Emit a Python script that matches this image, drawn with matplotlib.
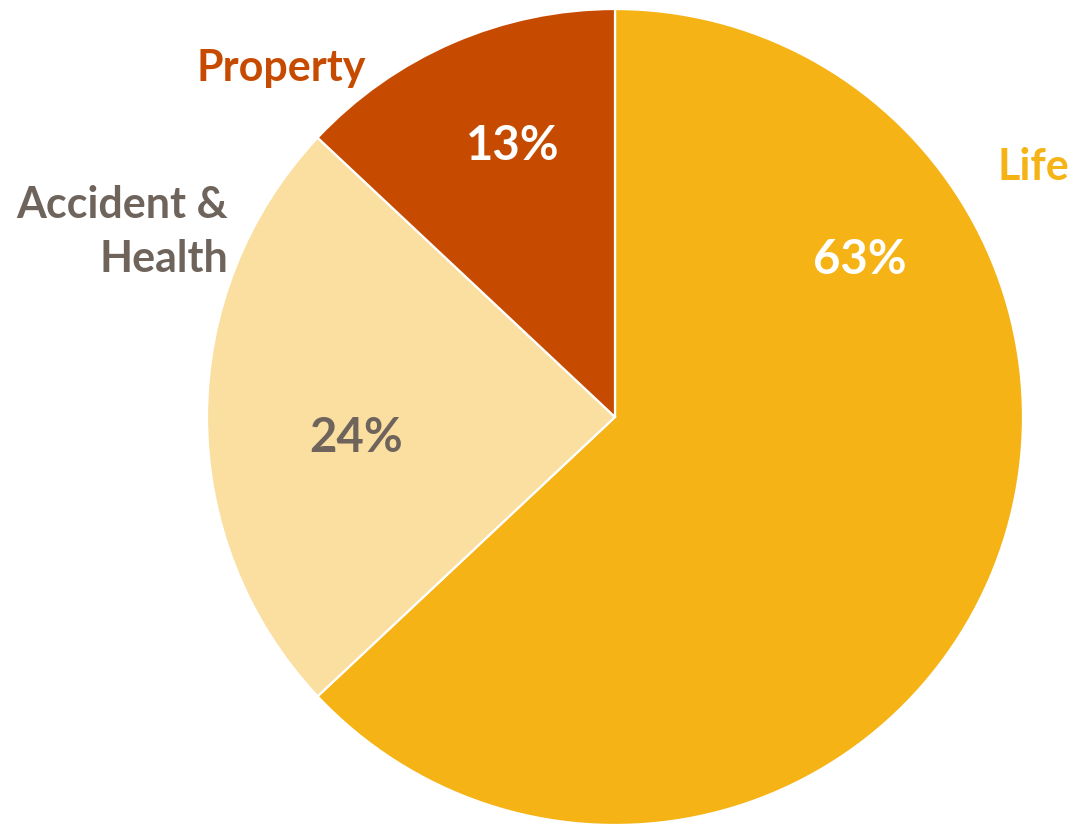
import matplotlib.pyplot as plt

# data
labels = ["Life", "Accident &\nHealth", "Property"]
shares = [63, 24, 13]
colors = ["#F5B316", "#FADFA1", "#C64B00"]
label_colors = ["#F5B316", "#6E645C", "#C64B00"]
pct_colors = ["white", "#6E645C", "white"]

fig = plt.figure(figsize=(10.7, 8.25), dpi=100)
ax = fig.add_axes([0, 0, 1, 1])

wedges, _ = ax.pie(shares, colors=colors, startangle=90, counterclock=False,
                   radius=1.0, wedgeprops=dict(edgecolor="white", linewidth=1.6))

# pixel scale: radius 408 px, centre at (615, 417)
r = 408.0
ax.set_xlim(-615 / r, (1070 - 615) / r)
ax.set_ylim(-(825 - 417) / r, 417 / r)
ax.set_aspect("equal")
ax.axis("off")

font = "Lato"

# percentage labels
pct_pos = [(0.600, 0.385), (-0.635, -0.052), (-0.250, 0.665)]
for s, (x, y), c in zip(shares, pct_pos, pct_colors):
    ax.text(x, y, f"{s}%", ha="center", va="center", fontsize=34,
            fontweight="bold", color=c, family=font)

# category labels
ax.text(1.025, 0.612, labels[0], ha="center", va="center", fontsize=31,
        fontweight="bold", color=label_colors[0], family=font)
ax.text(-0.949, 0.453, labels[1], ha="right", va="center", fontsize=31,
        fontweight="bold", color=label_colors[1], family=font,
        linespacing=1.42, multialignment="right")
ax.text(-0.819, 0.855, labels[2], ha="center", va="center", fontsize=31,
        fontweight="bold", color=label_colors[2], family=font)

fig.savefig("out.png", dpi=100)
